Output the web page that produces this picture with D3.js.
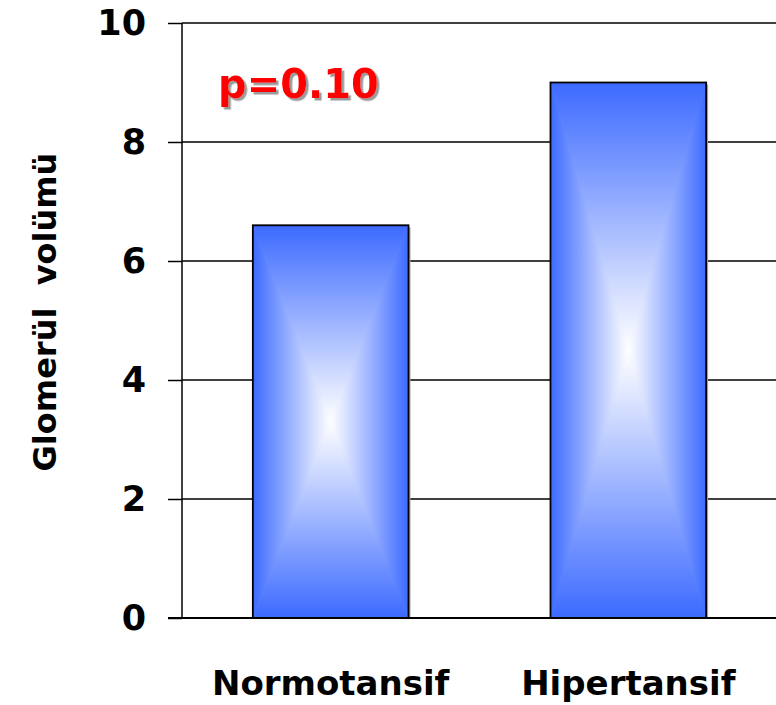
<!DOCTYPE html>
<html>
<head>
<meta charset="utf-8">
<script src="https://cdn.jsdelivr.net/npm/d3@7"></script>
<style>
  html, body { margin: 0; padding: 0; background: #fff; }
  svg { display: block; }
  text { font-family: "Comic Sans MS", "DejaVu Sans", sans-serif; font-weight: bold; white-space: pre; }
</style>
</head>
<body>
<svg id="chart" width="776" height="705"></svg>
<script>
// Glomerular volume by blood-pressure group
const categories = ["Normotansif", "Hipertansif"];
const values = [6.6, 9.0];
const yTicks = [0, 2, 4, 6, 8, 10];
const yLabel = "Glomerül  volümü";
const pLabel = "p=0.10";

const svg = d3.select("#chart");
const W = 776, H = 705;
const plot = { left: 182, right: 777, top: 23, bottom: 618 };

const x = d3.scaleBand().domain(categories).range([plot.left, plot.right]).paddingInner(0.477).paddingOuter(0.238);
const y = d3.scaleLinear().domain([0, 10]).range([plot.bottom, plot.top]);

const blue = "#3c6aff";
const defs = svg.append("defs");
// gradients: edge blue fading to white at the bar's centre
function grad(id, x1, y1, x2, y2) {
  const g = defs.append("linearGradient").attr("id", id)
    .attr("x1", x1).attr("y1", y1).attr("x2", x2).attr("y2", y2);
  g.append("stop").attr("offset", "0%").attr("stop-color", blue);
  g.append("stop").attr("offset", "100%").attr("stop-color", "#ffffff");
}
grad("gTop", 0, 0, 0, 1);
grad("gBottom", 0, 1, 0, 0);
grad("gLeft", 0, 0, 1, 0);
grad("gRight", 1, 0, 0, 0);

const shadow = defs.append("filter").attr("id", "txtShadow").attr("x", "-10%").attr("y", "-10%").attr("width", "130%").attr("height", "140%");
shadow.append("feDropShadow").attr("dx", 2.5).attr("dy", 2.5).attr("stdDeviation", 0.6).attr("flood-color", "#9a9a9a").attr("flood-opacity", 1);

// gridlines
svg.append("g").selectAll("line").data(yTicks.filter(d => d > 0)).join("line")
  .attr("x1", plot.left).attr("x2", W)
  .attr("y1", d => y(d)).attr("y2", d => y(d))
  .attr("stroke", "#000").attr("stroke-width", 1.5);

// y axis
const yAxis = d3.axisLeft(y).tickValues(yTicks).tickSize(14).tickPadding(22).tickFormat(d3.format("d"));
const ya = svg.append("g").attr("transform", `translate(${plot.left},0)`).call(yAxis);
ya.select(".domain").remove();
ya.selectAll(".tick line").attr("stroke", "#000").attr("stroke-width", 1.5);
ya.selectAll(".tick text").attr("font-size", 35).attr("fill", "#000")
  .attr("font-family", "'Comic Sans MS', 'DejaVu Sans', sans-serif").attr("font-weight", "bold");
svg.append("line").attr("x1", plot.left).attr("x2", plot.left).attr("y1", plot.top).attr("y2", plot.bottom)
  .attr("stroke", "#000").attr("stroke-width", 1.5);

// bars: four triangles meeting at the centre, each shaded from edge to centre
const bars = svg.append("g").selectAll("g").data(categories.map((c, i) => ({ c, v: values[i] }))).join("g");
bars.each(function(d) {
  const g = d3.select(this);
  const x0 = x(d.c), x1 = x(d.c) + x.bandwidth();
  const y0 = y(d.v), y1 = y(0);
  const cx = (x0 + x1) / 2, cy = (y0 + y1) / 2;
  g.append("rect").attr("x", x0 + 2).attr("y", y0 + 2).attr("width", x1 - x0).attr("height", y1 - y0 - 2).attr("fill", "#aaa");
  const tri = (pts, gid) => g.append("path")
    .attr("d", "M" + pts.map(p => p.join(",")).join("L") + "Z")
    .attr("fill", `url(#${gid})`).attr("stroke", `url(#${gid})`).attr("stroke-width", 0.6);
  tri([[x0, y0], [x1, y0], [cx, cy]], "gTop");
  tri([[x0, y1], [x1, y1], [cx, cy]], "gBottom");
  tri([[x0, y0], [x0, y1], [cx, cy]], "gLeft");
  tri([[x1, y0], [x1, y1], [cx, cy]], "gRight");
  g.append("rect").attr("x", x0).attr("y", y0).attr("width", x1 - x0).attr("height", y1 - y0)
    .attr("fill", "none").attr("stroke", "#000").attr("stroke-width", 1.8);
});

// baseline
svg.append("line").attr("x1", 168).attr("x2", W).attr("y1", y(0)).attr("y2", y(0))
  .attr("stroke", "#000").attr("stroke-width", 1.8);

// category labels
svg.append("g").selectAll("text").data(categories).join("text")
  .attr("x", d => x(d) + x.bandwidth() / 2).attr("y", 695)
  .attr("text-anchor", "middle").attr("font-size", 34).attr("fill", "#000")
  .text(d => d);

// y label
svg.append("text").attr("transform", `translate(56,312) rotate(-90)`)
  .attr("text-anchor", "middle").attr("font-size", 32).attr("fill", "#000").text(yLabel);

// p value
svg.append("text").attr("x", 218).attr("y", 98).attr("font-size", 40).attr("fill", "#ff0000")
  .attr("filter", "url(#txtShadow)").text(pLabel);
</script>
</body>
</html>
